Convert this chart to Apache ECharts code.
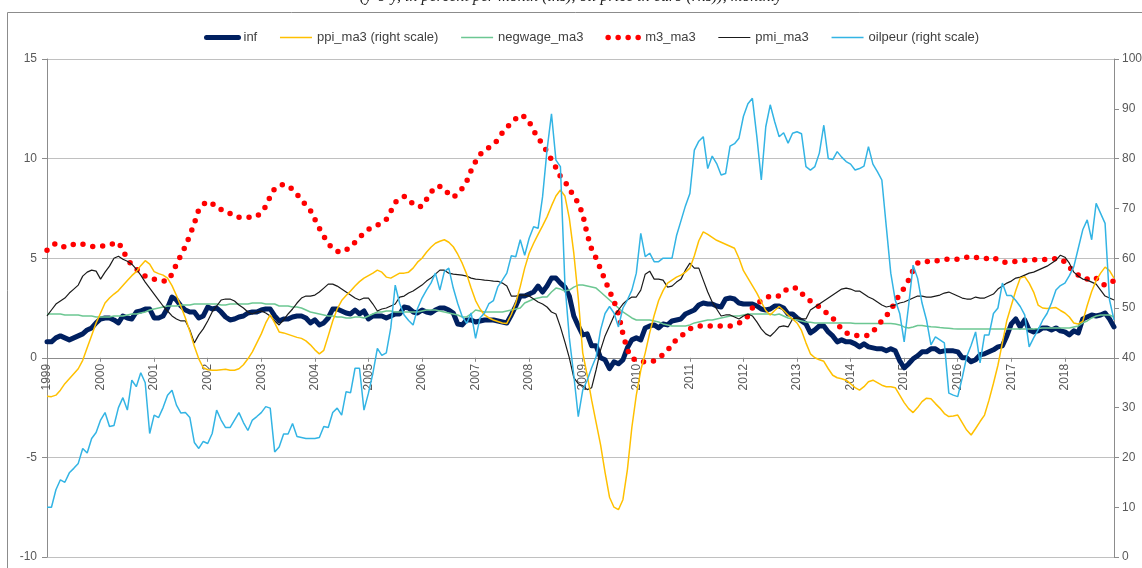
<!DOCTYPE html>
<html>
<head>
<meta charset="utf-8">
<script src="https://cdn.jsdelivr.net/npm/echarts@6/dist/echarts.min.js"></script>
<style>
html, body { margin: 0; padding: 0; background: #fff; }
#chart { width: 1142px; height: 568px; }
</style>
</head>
<body>
<div id="chart"></div>
<script>
// monthly, Jan 1999 .. Dec 2018
var years = [];
for (var y = 1999; y <= 2018; y++) years.push(y);
var months = [];
years.forEach(function (y) {
    for (var m = 1; m <= 12; m++) months.push(y + '-' + (m < 10 ? '0' + m : m));
});

var seriesNames = ['inf', 'ppi_ma3 (right scale)', 'negwage_ma3', 'm3_ma3', 'pmi_ma3', 'oilpeur (right scale)'];

var inf = [
    0.8, 0.8, 1.0, 1.1, 1.0, 0.9, 1.0, 1.1, 1.2, 1.4, 1.5, 1.75,
    1.95, 2.0, 2.0, 1.9, 1.75, 2.1, 2.0, 1.95, 2.3, 2.35, 2.45, 2.45,
    2.0, 2.0, 2.1, 2.5, 3.05, 2.9, 2.6, 2.4, 2.3, 2.3, 2.0, 2.1,
    2.55, 2.45, 2.5, 2.3, 2.05, 1.9, 1.95, 2.05, 2.1, 2.25, 2.3, 2.3,
    2.4, 2.45, 2.45, 2.1, 1.85, 1.95, 1.95, 2.05, 2.1, 2.1, 2.0, 1.75,
    1.9, 1.65, 1.75, 2.0, 2.45, 2.45, 2.35, 2.25, 2.2, 2.4, 2.2, 2.35,
    1.95, 2.1, 2.1, 2.1, 2.0, 2.1, 2.2, 2.2, 2.55, 2.5, 2.3, 2.25,
    2.4, 2.3, 2.25, 2.4, 2.5, 2.5, 2.4, 2.25, 1.7, 1.65, 1.9, 1.9,
    1.8, 1.85, 1.9, 1.9, 1.9, 1.85, 1.8, 1.75, 2.15, 2.6, 3.1, 3.1,
    3.2, 3.3, 3.6, 3.3, 3.6, 4.0, 4.0, 3.75, 3.55, 3.1, 2.1, 1.6,
    1.15, 1.2, 0.6, 0.6, 0.0, -0.1, -0.55, -0.2, -0.3, -0.1, 0.5, 0.9,
    1.0, 0.9, 1.5, 1.6, 1.65, 1.5, 1.7, 1.65, 1.85, 1.9, 1.95, 2.2,
    2.3, 2.4, 2.65, 2.75, 2.7, 2.7, 2.6, 2.55, 2.95, 3.0, 2.95, 2.75,
    2.7, 2.7, 2.7, 2.6, 2.45, 2.4, 2.45, 2.6, 2.6, 2.5, 2.2, 2.2,
    2.0, 1.85, 1.7, 1.25, 1.4, 1.6, 1.6, 1.3, 1.1, 0.8, 0.9, 0.8,
    0.8, 0.7, 0.55, 0.7, 0.55, 0.5, 0.45, 0.45, 0.35, 0.45, 0.35, -0.15,
    -0.5, -0.3, -0.05, 0.1, 0.3, 0.3, 0.45, 0.45, 0.3, 0.35, 0.35, 0.35,
    0.3, 0.0, 0.0, -0.2, -0.1, 0.15, 0.2, 0.3, 0.4, 0.55, 0.6, 1.1,
    1.7, 1.95, 1.55, 1.9, 1.4, 1.3, 1.35, 1.5, 1.5, 1.4, 1.5, 1.35,
    1.3, 1.15, 1.35, 1.25, 1.95, 2.05, 2.15, 2.1, 2.15, 2.25, 1.95, 1.55
];

var negwage = [
    2.2, 2.2, 2.2, 2.2, 2.15, 2.15, 2.15, 2.15, 2.1, 2.1, 2.1, 2.05,
    2.05, 2.05, 2.05, 2.1, 2.1, 2.1, 2.15, 2.2, 2.2, 2.25, 2.3, 2.4,
    2.45, 2.5, 2.55, 2.6, 2.6, 2.6, 2.65, 2.65, 2.65, 2.7, 2.7, 2.7,
    2.7, 2.7, 2.7, 2.65, 2.65, 2.7, 2.7, 2.7, 2.7, 2.7, 2.75, 2.75,
    2.75, 2.7, 2.7, 2.7, 2.6, 2.6, 2.6, 2.55, 2.55, 2.5, 2.4, 2.3,
    2.25, 2.2, 2.15, 2.1, 2.1, 2.05, 2.05, 2.0, 2.0, 2.05, 2.05, 2.0,
    2.1, 2.2, 2.3, 2.3, 2.35, 2.35, 2.3, 2.3, 2.3, 2.3, 2.3, 2.3,
    2.35, 2.4, 2.4, 2.4, 2.35, 2.3, 2.25, 2.2, 2.15, 2.05, 2.05, 2.2,
    2.4, 2.35, 2.3, 2.3, 2.3, 2.3, 2.3, 2.35, 2.4, 2.45, 2.5, 2.75,
    2.85, 2.95, 3.0, 3.05, 3.05, 3.3, 3.5, 3.45, 3.35, 3.4, 3.55, 3.65,
    3.65, 3.6, 3.55, 3.5, 3.3, 3.1, 2.9, 2.7, 2.5, 2.3, 2.15, 2.0,
    1.9, 1.9, 1.9, 1.9, 1.85, 1.8, 1.7, 1.65, 1.6, 1.6, 1.6, 1.6,
    1.65, 1.75, 1.8, 1.85, 1.9, 1.9, 1.95, 2.0, 2.05, 2.1, 2.1, 2.1,
    2.15, 2.2, 2.2, 2.2, 2.2, 2.2, 2.2, 2.15, 2.2, 2.1, 2.0, 1.95,
    1.9, 1.85, 1.8, 1.78, 1.75, 1.75, 1.75, 1.75, 1.75, 1.75, 1.75, 1.75,
    1.75, 1.72, 1.72, 1.72, 1.72, 1.72, 1.72, 1.72, 1.72, 1.72, 1.7, 1.65,
    1.55, 1.5, 1.55, 1.62, 1.62, 1.58, 1.56, 1.55, 1.52, 1.5, 1.48, 1.46,
    1.45, 1.45, 1.45, 1.45, 1.45, 1.45, 1.45, 1.45, 1.45, 1.45, 1.45, 1.45,
    1.45, 1.45, 1.45, 1.45, 1.45, 1.45, 1.47, 1.5, 1.5, 1.5, 1.5, 1.5,
    1.5, 1.5, 1.55, 1.6, 1.75, 1.85, 2.0, 2.1, 2.15, 2.15, 2.15, 2.05
];

var pmi = [
    2.1, 2.4, 2.7, 2.85, 3.0, 3.25, 3.45, 3.65, 4.1, 4.3, 4.4, 4.35,
    3.95, 4.3, 4.6, 5.0, 5.1, 4.95, 4.85, 4.7, 4.45, 4.15, 3.8, 3.5,
    3.2, 2.9, 2.6, 2.35, 2.1, 1.95, 1.85, 1.85, 1.4, 0.75, 1.15, 1.45,
    1.85, 2.3, 2.6, 2.9, 2.95, 2.95, 2.85, 2.65, 2.5, 2.3, 2.2, 2.3,
    2.35, 2.25, 2.1, 1.85, 1.65, 1.9, 2.2, 2.45, 2.75, 3.0, 3.1, 3.1,
    3.15, 3.3, 3.5, 3.7, 3.7, 3.6, 3.45, 3.3, 3.15, 3.0, 2.9, 3.0,
    3.0, 2.7, 2.35, 2.45, 2.5, 2.6, 2.7, 3.05, 3.1, 3.25, 3.35, 3.5,
    3.65, 3.85, 4.0, 4.2, 4.4, 4.4, 4.25, 4.2, 4.18, 4.15, 4.1, 4.0,
    3.95, 3.93, 3.9, 3.88, 3.85, 3.84, 3.75, 3.6, 3.1, 3.1, 3.15, 3.15,
    3.1, 2.95, 2.8, 2.7, 2.55, 2.3, 2.2, 1.55, 0.8, 0.0, -1.0, -1.3,
    -1.4, -1.6, -1.5, -0.6, 0.4, 1.1, 1.6, 2.1, 2.4, 2.7, 2.9, 3.05,
    3.05, 3.4, 4.2, 4.35, 3.95, 3.95, 3.9, 3.55, 3.6, 3.8, 3.95, 4.4,
    4.75, 4.5, 4.5, 3.9, 3.3, 2.8, 2.45, 2.1, 2.15, 2.15, 2.05, 1.95,
    2.1, 2.2, 2.1, 1.8, 1.45, 1.2, 1.08, 1.3, 1.55, 1.6, 1.55, 1.95,
    2.0, 1.95, 1.95, 2.4, 2.55, 2.7, 2.85, 3.0, 3.15, 3.3, 3.45, 3.5,
    3.45, 3.35, 3.35, 3.2, 3.05, 2.95, 2.8, 2.65, 2.55, 2.6, 2.65, 2.75,
    2.8, 2.9, 3.0, 3.1, 3.1, 3.05, 3.05, 3.1, 3.15, 3.25, 3.3, 3.2,
    3.1, 3.0, 2.95, 2.95, 3.05, 3.0, 3.0, 3.1, 3.2, 3.45, 3.6, 3.75,
    3.85, 4.0, 4.05, 4.15, 4.25, 4.3, 4.4, 4.5, 4.6, 4.75, 4.9, 5.15,
    5.05, 4.75, 4.3, 4.1, 3.95, 3.9, 3.8, 3.7, 3.4, 3.1, 3.0, 2.9
];

var m3 = [
    5.4, 5.6, 5.75, 5.65, 5.55, 5.6, 5.7, 5.75, 5.7, 5.65, 5.6, 5.57,
    5.6, 5.62, 5.65, 5.75, 5.8, 5.4, 4.95, 4.65, 4.45, 4.3, 4.1, 4.05,
    3.95, 3.9, 3.85, 3.85, 4.2, 4.7, 5.15, 5.6, 6.15, 6.75, 7.45, 7.7,
    7.85, 7.75, 7.5, 7.45, 7.4, 7.25, 7.1, 7.05, 7.05, 7.05, 7.05, 7.1,
    7.3, 7.6, 8.1, 8.5, 8.65, 8.7, 8.65, 8.45, 8.2, 7.95, 7.65, 7.4,
    6.95, 6.5, 6.1, 5.75, 5.45, 5.35, 5.3, 5.4, 5.6, 5.8, 6.05, 6.25,
    6.45, 6.55, 6.65, 6.8, 6.95, 7.35, 7.8, 8.0, 8.1, 8.0, 7.7, 7.6,
    7.6, 7.95, 8.3, 8.6, 8.6, 8.5, 8.2, 8.05, 8.25, 8.5, 8.85, 9.4,
    9.85, 10.2, 10.45, 10.55, 10.7, 10.95, 11.3, 11.55, 11.8, 12.0, 12.2, 12.1,
    11.85, 11.4, 11.05, 10.7, 10.35, 9.95, 9.55, 9.1, 8.85, 8.5, 8.1, 7.78,
    7.2, 6.2, 5.45, 5.0, 4.45, 3.9, 3.35, 2.85, 2.2, 1.2, 0.4, 0.0,
    -0.15, -0.2, -0.2, -0.2, -0.15, 0.0, 0.15, 0.4, 0.6, 0.95, 1.1, 1.25,
    1.45, 1.55, 1.6, 1.6, 1.6, 1.6, 1.6, 1.6, 1.6, 1.6, 1.65, 1.75,
    1.85, 2.1, 2.5, 2.75, 2.85, 3.0, 3.1, 3.1, 3.1, 3.3, 3.5, 3.5,
    3.5, 3.25, 3.0, 2.85, 2.75, 2.55, 2.4, 2.15, 2.0, 1.7, 1.45, 1.25,
    1.15, 1.12, 1.12, 1.12, 1.12, 1.3, 1.6, 1.85, 2.1, 2.4, 2.8, 3.2,
    3.5, 3.9, 4.4, 4.75, 4.85, 4.85, 4.8, 4.85, 4.9, 4.95, 4.95, 4.95,
    4.95, 5.0, 5.05, 5.1, 5.05, 5.0, 4.98, 5.0, 5.05, 4.9, 4.8, 4.8,
    4.8, 4.85, 4.9, 4.9, 4.9, 4.92, 4.93, 4.93, 4.95, 4.97, 4.97, 4.97,
    4.8, 4.55, 4.3, 4.15, 4.0, 3.95, 4.05, 4.0, 3.75, 3.65, 3.8, 3.85
];

// right scale series
var ppi = [
    32.3, 32.2, 32.5, 33.5, 34.8, 35.8, 36.8, 37.8, 39.5, 42.0, 44.5, 47.0,
    49.0, 51.0, 52.0, 52.8, 53.5, 54.5, 55.5, 56.5, 57.3, 58.5, 59.5, 58.8,
    57.3, 56.9, 56.6, 56.0, 54.5, 52.5, 50.3, 48.0, 45.3, 42.3, 39.8, 38.0,
    37.6, 37.5, 37.5, 37.6, 37.7, 37.5, 37.5, 37.8, 38.6, 39.8, 41.2, 43.0,
    44.8, 47.0, 48.6, 47.0, 45.2, 45.0, 44.7, 44.4, 44.1, 43.9, 43.4, 42.6,
    41.6, 40.8, 41.5, 44.4, 47.4, 49.8, 51.5, 52.5, 53.4, 54.4, 55.3, 56.0,
    56.5, 57.0, 57.6, 57.2, 56.2, 56.0, 56.5, 57.0, 57.0, 57.2, 58.0, 59.2,
    60.0, 61.2, 62.2, 63.0, 63.4, 63.7, 63.2, 62.3, 60.8, 59.0, 56.8, 54.0,
    51.5, 49.8, 48.6, 48.0, 47.6, 47.3, 47.0, 46.9, 48.7, 51.0, 54.3, 58.0,
    61.0, 63.0, 64.8, 66.5, 68.3, 70.5, 72.5, 73.7, 72.5, 68.0, 61.0, 52.0,
    41.0, 36.5, 31.5, 27.0, 22.5, 17.0, 12.0, 10.0, 9.5, 11.5, 17.5, 26.0,
    32.5, 37.5, 41.0, 45.0, 48.5, 51.5, 53.5, 55.0, 55.6, 56.2, 56.6, 57.2,
    58.0, 60.5, 63.5, 65.3, 64.8, 64.2, 63.6, 63.2, 62.8, 62.4, 62.0, 60.0,
    57.5, 56.0, 54.5, 53.0, 51.2, 49.5, 48.6, 49.5, 50.3, 49.5, 48.6, 47.8,
    47.0, 45.5, 43.0, 40.8, 40.0, 39.6, 39.3, 37.8, 36.5, 36.0, 35.8, 35.5,
    34.8, 34.0, 33.5, 34.2, 35.2, 35.5, 35.0, 34.5, 34.2, 34.2, 34.0, 32.5,
    31.0, 29.8, 29.0, 30.0, 31.2, 31.9, 31.8, 30.8, 29.9, 28.8, 28.2, 28.3,
    28.5, 27.0, 25.5, 24.5, 25.8, 27.2, 28.5, 31.5, 34.9, 38.5, 43.0, 47.5,
    50.5, 53.5, 56.0, 56.3, 55.0, 53.2, 50.6, 50.0, 49.9, 50.0, 50.1, 49.5,
    49.0, 48.2, 47.0, 46.8, 47.3, 50.5, 53.3, 55.5, 57.0, 58.2, 57.5, 56.0
];

var oilpeur = [
    10.0, 10.0, 13.5, 15.5, 15.0, 16.9, 17.8, 18.8, 21.8, 20.9, 23.8, 25.0,
    27.5, 29.0, 26.2, 26.4, 30.0, 32.0, 29.5, 35.5, 34.2, 37.0, 35.0, 24.8,
    28.5, 28.0, 30.0, 32.5, 33.5, 30.5, 28.9, 29.0, 28.0, 23.0, 21.8, 23.2,
    22.8, 24.8, 29.5, 27.5, 26.0, 26.0, 27.5, 29.0, 27.0, 25.4, 27.5, 28.2,
    29.0, 30.2, 29.9, 21.1, 22.1, 24.7, 24.7, 26.8, 24.2, 24.0, 23.8, 23.8,
    23.8, 24.0, 26.2, 26.0, 29.0, 29.9, 28.5, 33.2, 33.0, 37.9, 37.9, 29.5,
    32.9, 36.9, 41.9, 40.5, 41.0, 46.0, 54.6, 50.9, 48.6, 47.5, 46.6, 49.9,
    52.0, 53.6, 55.0, 57.0, 53.6, 57.3, 58.0, 54.0, 50.9, 48.3, 46.9, 49.0,
    43.9, 48.0, 49.0, 50.9, 51.5, 54.3, 55.6, 57.0, 60.5, 60.3, 63.7, 60.6,
    64.0, 66.3, 66.0, 72.3, 81.7, 89.0, 79.7, 78.4, 55.0, 44.0, 36.5, 28.2,
    33.5, 35.5, 38.0, 40.2, 45.6, 48.9, 50.3, 49.0, 46.2, 50.0, 51.6, 53.6,
    57.0, 65.0, 60.3, 61.0, 59.3, 59.3, 60.0, 60.0, 60.0, 64.5, 67.5, 70.5,
    73.0, 81.7, 83.5, 84.4, 78.0, 80.5, 79.0, 76.7, 77.0, 82.5, 83.0, 84.1,
    88.5, 91.0, 92.1, 84.4, 75.7, 86.4, 90.8, 87.4, 84.4, 85.2, 83.1, 85.1,
    85.4, 85.0, 78.4, 77.7, 78.4, 81.1, 86.7, 80.0, 79.8, 81.4, 80.3, 79.4,
    78.9, 77.7, 78.0, 78.5, 82.4, 78.9, 77.4, 75.7, 66.3, 57.0, 51.6, 48.9,
    43.2, 50.5, 58.6, 56.0, 51.0, 47.6, 42.6, 44.2, 43.6, 43.0, 32.9, 32.5,
    32.2, 36.0, 40.2, 42.5, 45.2, 39.0, 44.6, 44.6, 48.9, 50.0, 55.0, 52.5,
    52.5, 51.5, 50.3, 48.6, 42.2, 44.0, 45.6, 47.5, 48.9, 51.0, 53.6, 54.5,
    55.0, 56.5, 58.3, 62.0, 65.7, 67.7, 63.7, 71.0, 69.0, 67.0, 51.6, 47.6
];

var leftTicks = { min: -10, max: 15, interval: 5 };
var rightTicks = { min: 0, max: 100, interval: 10 };

var gridTop = 59, gridBottom = 11, chartH = 568;
// x axis sits on the left axis' zero line
var plotH = chartH - gridTop - gridBottom;
var zeroOffset = -plotH * (0 - leftTicks.min) / (leftTicks.max - leftTicks.min);

var myChart = echarts.init(document.getElementById('chart'));
var labelFont = 'Liberation Sans, Arial, sans-serif';

option = {
    backgroundColor: '#fff',
    animation: false,
    textStyle: { fontFamily: labelFont },
    graphic: [
        {
            type: 'rect',
            silent: true,
            shape: { x: 7.5, y: 12.5, width: 1140, height: 600 },
            style: { fill: 'none', stroke: '#8c8c8c', lineWidth: 1 }
        },
        {
            type: 'text',
            silent: true,
            left: 'center',
            top: -11,
            style: {
                text: '(y-o-y, in percent per month (lhs), oil price in euro (rhs)), monthly',
                font: 'italic 16px "Liberation Serif", serif',
                fill: '#222'
            }
        }
    ],
    legend: {
        left: 199,
        top: 26,
        itemWidth: 32,
        itemHeight: 14,
        itemGap: 22,
        itemStyle: { opacity: 0 },
        lineStyle: { width: 'inherit' },
        textStyle: { fontSize: 13, color: '#404040', fontFamily: labelFont },
        data: seriesNames
    },
    grid: { left: 47, right: 28, top: gridTop, bottom: gridBottom, containLabel: false, outerBoundsMode: 'none' },
    xAxis: {
        type: 'category',
        data: months,
        boundaryGap: false,
        position: 'bottom',
        offset: zeroOffset,
        axisLine: { onZero: false, lineStyle: { color: '#8c8c8c', width: 1 } },
        axisTick: { show: true, interval: 11, length: 4, lineStyle: { color: '#8c8c8c' } },
        axisLabel: {
            interval: 11,
            rotate: 90,
            margin: 6,
            color: '#595959',
            fontSize: 12,
            formatter: function (v) { return v.slice(0, 4); }
        },
        splitLine: { show: false }
    },
    yAxis: [
        {
            type: 'value',
            position: 'left',
            min: leftTicks.min,
            max: leftTicks.max,
            interval: leftTicks.interval,
            axisLine: { show: true, lineStyle: { color: '#8c8c8c' } },
            axisTick: { show: true, length: 5, lineStyle: { color: '#8c8c8c' } },
            axisLabel: { color: '#595959', fontSize: 12, margin: 10 },
            splitLine: { show: true, lineStyle: { color: '#c0c0c0', width: 1.2 } }
        },
        {
            type: 'value',
            position: 'right',
            min: rightTicks.min,
            max: rightTicks.max,
            interval: rightTicks.interval,
            axisLine: { show: true, lineStyle: { color: '#8c8c8c' } },
            axisTick: { show: true, length: 5, lineStyle: { color: '#8c8c8c' } },
            axisLabel: { color: '#595959', fontSize: 12, margin: 8 },
            splitLine: { show: false }
        }
    ],
    series: [
        {
            name: 'inf',
            type: 'line',
            yAxisIndex: 0,
            data: inf,
            symbol: 'none',
            z: 3,
            itemStyle: { color: '#002060' },
            lineStyle: { color: '#002060', width: 5, cap: 'round', join: 'round' }
        },
        {
            name: 'ppi_ma3 (right scale)',
            type: 'line',
            yAxisIndex: 1,
            data: ppi,
            symbol: 'none',
            z: 4,
            itemStyle: { color: '#ffc000' },
            lineStyle: { color: '#ffc000', width: 1.5 }
        },
        {
            name: 'negwage_ma3',
            type: 'line',
            yAxisIndex: 0,
            data: negwage,
            symbol: 'none',
            z: 3,
            itemStyle: { color: '#6cc792' },
            lineStyle: { color: '#6cc792', width: 1.5 }
        },
        {
            name: 'm3_ma3',
            type: 'line',
            yAxisIndex: 0,
            data: m3,
            symbol: 'none',
            z: 3,
            itemStyle: { color: '#ff0000' },
            lineStyle: { color: '#ff0000', width: 5.5, type: [0, 10], cap: 'round' }
        },
        {
            name: 'pmi_ma3',
            type: 'line',
            yAxisIndex: 0,
            data: pmi,
            symbol: 'none',
            z: 3,
            itemStyle: { color: '#1a1a1a' },
            lineStyle: { color: '#1a1a1a', width: 1.2 }
        },
        {
            name: 'oilpeur (right scale)',
            type: 'line',
            yAxisIndex: 1,
            data: oilpeur,
            symbol: 'none',
            z: 4,
            itemStyle: { color: '#33b4e4' },
            lineStyle: { color: '#33b4e4', width: 1.5 }
        }
    ]
};

myChart.setOption(option);
</script>
</body>
</html>
